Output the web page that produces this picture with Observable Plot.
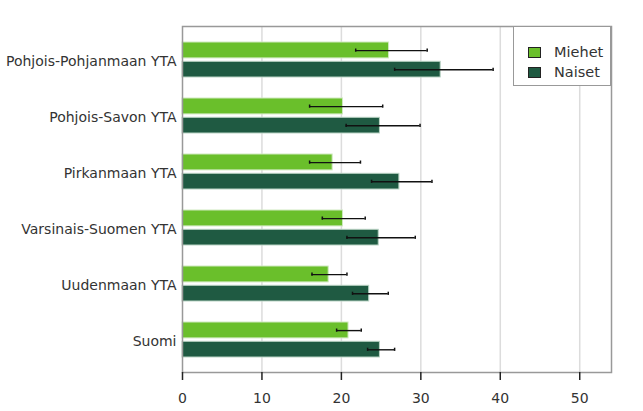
<!DOCTYPE html>
<html>
<head>
<meta charset="utf-8">
<script src="https://cdn.jsdelivr.net/npm/d3@7"></script>
<script src="https://cdn.jsdelivr.net/npm/@observablehq/plot@0.6"></script>
<style>
  html, body { margin: 0; padding: 0; background: #fff; }
  #wrap { position: relative; width: 643px; height: 411px; font-family: "DejaVu Sans", sans-serif; }
  #legend { position: absolute; left: 513px; top: 26px; width: 98px; height: 60px; background: #fff;
            border: 1.5px solid #999; box-sizing: border-box; padding-top: 15px; }
  .item { display: flex; align-items: center; height: 20px; margin-left: 14px; font-size: 14.5px; color: #333; }
  .sw { width: 11px; height: 9px; border: 1.5px solid #222; margin-right: 13px; }
</style>
</head>
<body>
<div id="wrap"></div>
<script>
const regions = ["Pohjois-Pohjanmaan YTA", "Pohjois-Savon YTA", "Pirkanmaan YTA", "Varsinais-Suomen YTA", "Uudenmaan YTA", "Suomi"];
const series = ["Miehet", "Naiset"];
const colors = ["#6abf2b", "#1f5a42"];
const miehet     = [26.0, 20.2, 18.9, 20.2, 18.4, 20.9];
const miehetLow  = [21.8, 16.0, 16.0, 17.6, 16.3, 19.4];
const miehetHigh = [30.8, 25.2, 22.4, 23.0, 20.7, 22.5];
const naiset     = [32.5, 24.85, 27.3, 24.7, 23.5, 24.85];
const naisetLow  = [26.7, 20.6, 23.8, 20.7, 21.4, 23.3];
const naisetHigh = [39.1, 29.9, 31.4, 29.3, 25.9, 26.7];
const xTicks = [0, 10, 20, 30, 40, 50];

const rowsM = regions.map((r, i) => ({region: r, value: miehet[i], lo: miehetLow[i], hi: miehetHigh[i]}));
const rowsN = regions.map((r, i) => ({region: r, value: naiset[i], lo: naisetLow[i], hi: naisetHigh[i]}));

const ink = "#111";
const chart = Plot.plot({
  width: 643,
  height: 411,
  marginLeft: 182,
  marginRight: 32,
  marginTop: 26,
  marginBottom: 39,
  style: {fontFamily: "DejaVu Sans, sans-serif", fontSize: "14px", color: "#333", background: "#fff"},
  x: {domain: [0, 54]},
  y: {domain: regions, paddingInner: 0.35, paddingOuter: 0.23},
  marks: [
    Plot.ruleX(xTicks.slice(1), {stroke: "#dcdcdc", strokeWidth: 1.5}),
    Plot.barX(rowsM, {x: "value", y: "region", fill: colors[0], stroke: "#cfe9bf", strokeWidth: 1, insetTop: 1, insetBottom: 19.1}),
    Plot.barX(rowsN, {x: "value", y: "region", fill: colors[1], stroke: "#b9d3c4", strokeWidth: 1, insetTop: 20.3}),
    Plot.ruleY(rowsM, {y: "region", x1: "lo", x2: "hi", dy: -8.9, stroke: ink, strokeWidth: 1.4}),
    Plot.ruleY(rowsN, {y: "region", x1: "lo", x2: "hi", dy: 10.3, stroke: ink, strokeWidth: 1.4}),
    Plot.tickX(rowsM, {x: "lo", y: "region", insetTop: 7.5, insetBottom: 25.3, stroke: ink, strokeWidth: 1.5}),
    Plot.tickX(rowsM, {x: "hi", y: "region", insetTop: 7.5, insetBottom: 25.3, stroke: ink, strokeWidth: 1.5}),
    Plot.tickX(rowsN, {x: "lo", y: "region", insetTop: 26.7, insetBottom: 6.1, stroke: ink, strokeWidth: 1.5}),
    Plot.tickX(rowsN, {x: "hi", y: "region", insetTop: 26.7, insetBottom: 6.1, stroke: ink, strokeWidth: 1.5}),
    Plot.frame({stroke: "#999", strokeWidth: 1.5}),
    Plot.axisX({ticks: xTicks, tickSize: 8, tickPadding: 13, fontSize: 14, stroke: "#222", strokeWidth: 1.5, label: null}),
    Plot.axisY({tickSize: 0, tickPadding: 6, fontSize: 14, dy: 2, label: null})
  ]
});

const wrap = document.getElementById("wrap");
wrap.appendChild(chart);
const legend = d3.select(wrap).append("div").attr("id", "legend");
series.forEach((s, i) => {
  const it = legend.append("div").attr("class", "item");
  it.append("div").attr("class", "sw").style("background", colors[i]);
  it.append("span").text(s);
});
</script>
</body>
</html>
